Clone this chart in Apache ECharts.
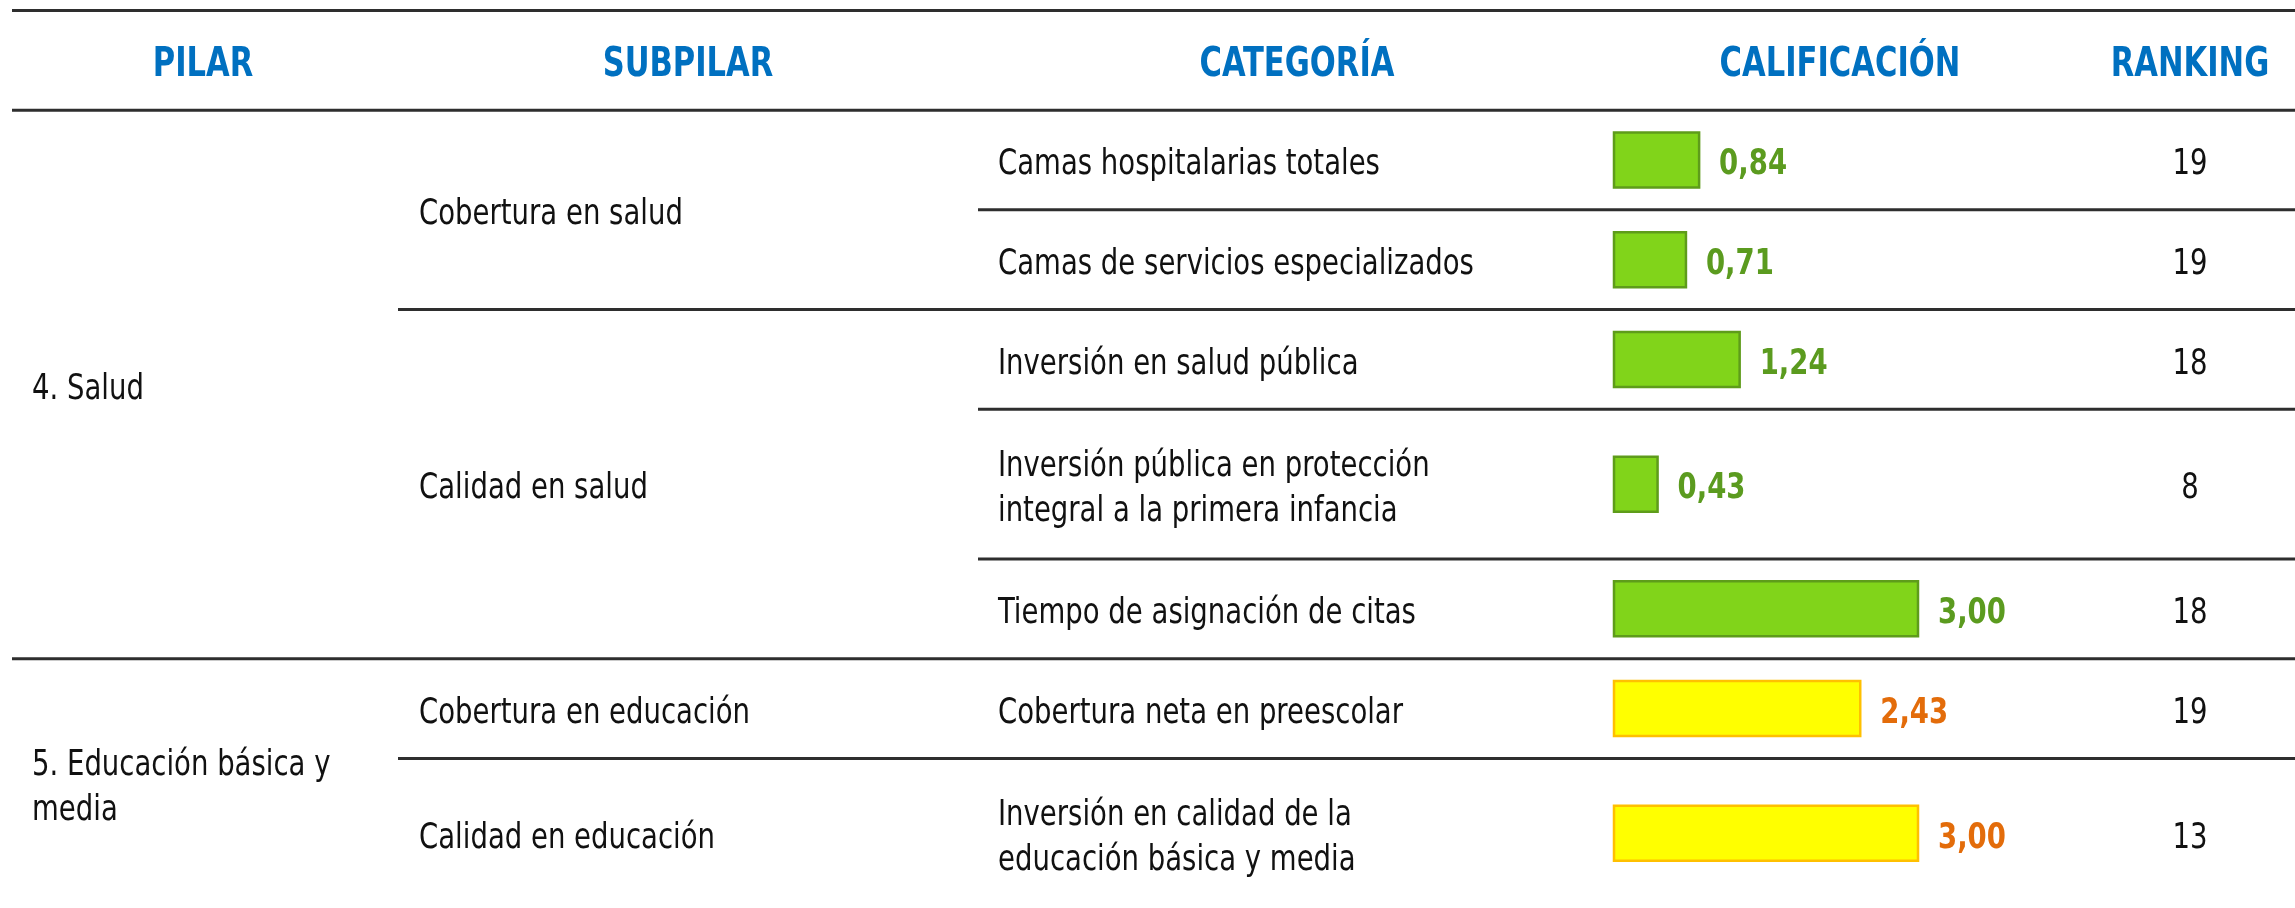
<!DOCTYPE html>
<html>
<head>
<meta charset="utf-8">
<script src="https://cdn.jsdelivr.net/npm/echarts@6/dist/echarts.min.js"></script>
<style>
html,body{margin:0;padding:0;background:#fff;}
#c{width:2295px;height:908px;}
</style>
</head>
<body>
<div id="c"></div>
<script>
// ---------- DATA ----------
const headers = ['PILAR', 'SUBPILAR', 'CATEGORÍA', 'CALIFICACIÓN', 'RANKING'];
const pilares = ['4. Salud', '5. Educación básica y\nmedia'];
const subpilares = ['Cobertura en salud', 'Calidad en salud', 'Cobertura en educación', 'Calidad en educación'];
const categorias = [
  'Camas hospitalarias totales',
  'Camas de servicios especializados',
  'Inversión en salud pública',
  'Inversión pública en protección\nintegral a la primera infancia',
  'Tiempo de asignación de citas',
  'Cobertura neta en preescolar',
  'Inversión en calidad de la\neducación básica y media'
];
const calificacion = [0.84, 0.71, 1.24, 0.43, 3.00, 2.43, 3.00];
const ranking = [19, 19, 18, 8, 18, 19, 13];
const pilarDeFila = [0, 0, 0, 0, 0, 1, 1];
const subpilarDeFila = [0, 0, 1, 1, 1, 2, 3];

// ---------- LAYOUT (derived from content) ----------
const FONT = "'DejaVu Sans Condensed','Liberation Sans Narrow','Arial Narrow',sans-serif";
const rowStart = [], rowEnd = [];
let acc = 0;
categorias.forEach(c => {
  const n = c.split('\n').length;
  rowStart.push(acc);
  acc += n + 1;
  rowEnd.push(acc);
});
const totalUnits = acc;
const HEADER_UNITS = 2;
const UNIT_PX = 50.3;

function span(groupArr, g) {
  let s = Infinity, e = -Infinity;
  groupArr.forEach((v, i) => {
    if (v === g) { s = Math.min(s, rowStart[i]); e = Math.max(e, rowEnd[i]); }
  });
  return [s, e];
}

const COL = {
  pilarX: 32, subX: 419, catX: 998, rankX: 2190,
  hdr: [203, 688, 1297, 1840, 2190],
  lineFull: 12, lineSub: 398, lineCat: 978, right: 2295
};
const TEXT_DY = 5;
const SQUEEZE = 0.85;
const LINE_STYLE = { stroke: '#2e2e2e', lineWidth: 3 };
const BODY = { fontFamily: FONT, fontSize: 36, fill: '#111111', lineHeight: 45 };
const BAR_STYLE = [
  { fill: '#81D41A', stroke: '#5E9C1A', label: '#5B9B1F' },
  { fill: '#FFFF00', stroke: '#FFC000', label: '#E36C0A' }
];

function txt(x, y, text, extra) {
  return {
    type: 'text',
    x: x,
    y: y + TEXT_DY,
    scaleX: SQUEEZE,
    style: Object.assign({
      x: 0, y: 0, text: text, align: 'left', verticalAlign: 'middle'
    }, BODY, extra || {})
  };
}
function hline(x1, y, x2) {
  return { type: 'line', shape: { x1: x1, y1: y, x2: x2, y2: y }, style: LINE_STYLE };
}

function renderTable(params, api) {
  const i = params.dataIndex;
  const yTop = api.coord([0, rowStart[i]])[1];
  const yMid = api.coord([0, (rowStart[i] + rowEnd[i]) / 2])[1];
  const ch = [];
  ch.push(txt(COL.catX, yMid, categorias[i]));
  ch.push(txt(COL.rankX, yMid, String(ranking[i]), { align: 'center' }));

  let x0 = COL.lineCat;
  const newPilar = i === 0 || pilarDeFila[i] !== pilarDeFila[i - 1];
  const newSub = i === 0 || subpilarDeFila[i] !== subpilarDeFila[i - 1];
  if (newPilar) x0 = COL.lineFull;
  else if (newSub) x0 = COL.lineSub;
  ch.push(hline(x0, yTop, COL.right));

  if (newSub) {
    const [s, e] = span(subpilarDeFila, subpilarDeFila[i]);
    ch.push(txt(COL.subX, api.coord([0, (s + e) / 2])[1], subpilares[subpilarDeFila[i]]));
  }
  if (newPilar) {
    const [s, e] = span(pilarDeFila, pilarDeFila[i]);
    ch.push(txt(COL.pilarX, api.coord([0, (s + e) / 2])[1], pilares[pilarDeFila[i]]));
  }
  if (i === 0) {
    const yh = api.coord([0, -HEADER_UNITS / 2])[1];
    const yt = api.coord([0, -HEADER_UNITS])[1];
    ch.push(hline(COL.lineFull, yt, COL.right));
    headers.forEach((h, k) => {
      ch.push(txt(COL.hdr[k], yh, h, {
        align: 'center', fontSize: 40, fontWeight: 'bold', fill: '#0070C0'
      }));
    });
  }
  return { type: 'group', children: ch };
}

function renderBar(params, api) {
  const v = api.value(0), c = api.value(1), i = api.value(2);
  const p0 = api.coord([0, c]);
  const p1 = api.coord([v, c]);
  const h = 55;
  const st = BAR_STYLE[pilarDeFila[i]];
  return {
    type: 'group',
    children: [
      {
        type: 'rect',
        shape: { x: p0[0], y: p0[1] - h / 2, width: p1[0] - p0[0], height: h },
        style: { fill: st.fill, stroke: st.stroke, lineWidth: 2.5 }
      },
      txt(p1[0] + 20, p0[1], v.toFixed(2).replace('.', ','), {
        fontWeight: 'bold', fill: st.label, fontSize: 36
      })
    ]
  };
}

const chart = echarts.init(document.getElementById('c'), null, { renderer: 'canvas' });
chart.setOption({
  animation: false,
  backgroundColor: '#ffffff',
  grid: {
    left: 1614, width: 304,
    top: 111 - HEADER_UNITS * UNIT_PX,
    height: (HEADER_UNITS + totalUnits) * UNIT_PX
  },
  xAxis: { type: 'value', min: 0, max: 3, show: false },
  yAxis: { type: 'value', min: -HEADER_UNITS, max: totalUnits, inverse: true, show: false },
  series: [
    {
      type: 'custom',
      clip: false,
      silent: true,
      renderItem: renderTable,
      data: categorias.map((c, i) => [0, (rowStart[i] + rowEnd[i]) / 2]),
      encode: { x: 0, y: 1 }
    },
    {
      type: 'custom',
      clip: false,
      silent: true,
      renderItem: renderBar,
      data: calificacion.map((v, i) => [v, (rowStart[i] + rowEnd[i]) / 2, i]),
      encode: { x: 0, y: 1 }
    }
  ]
});
</script>
</body>
</html>
